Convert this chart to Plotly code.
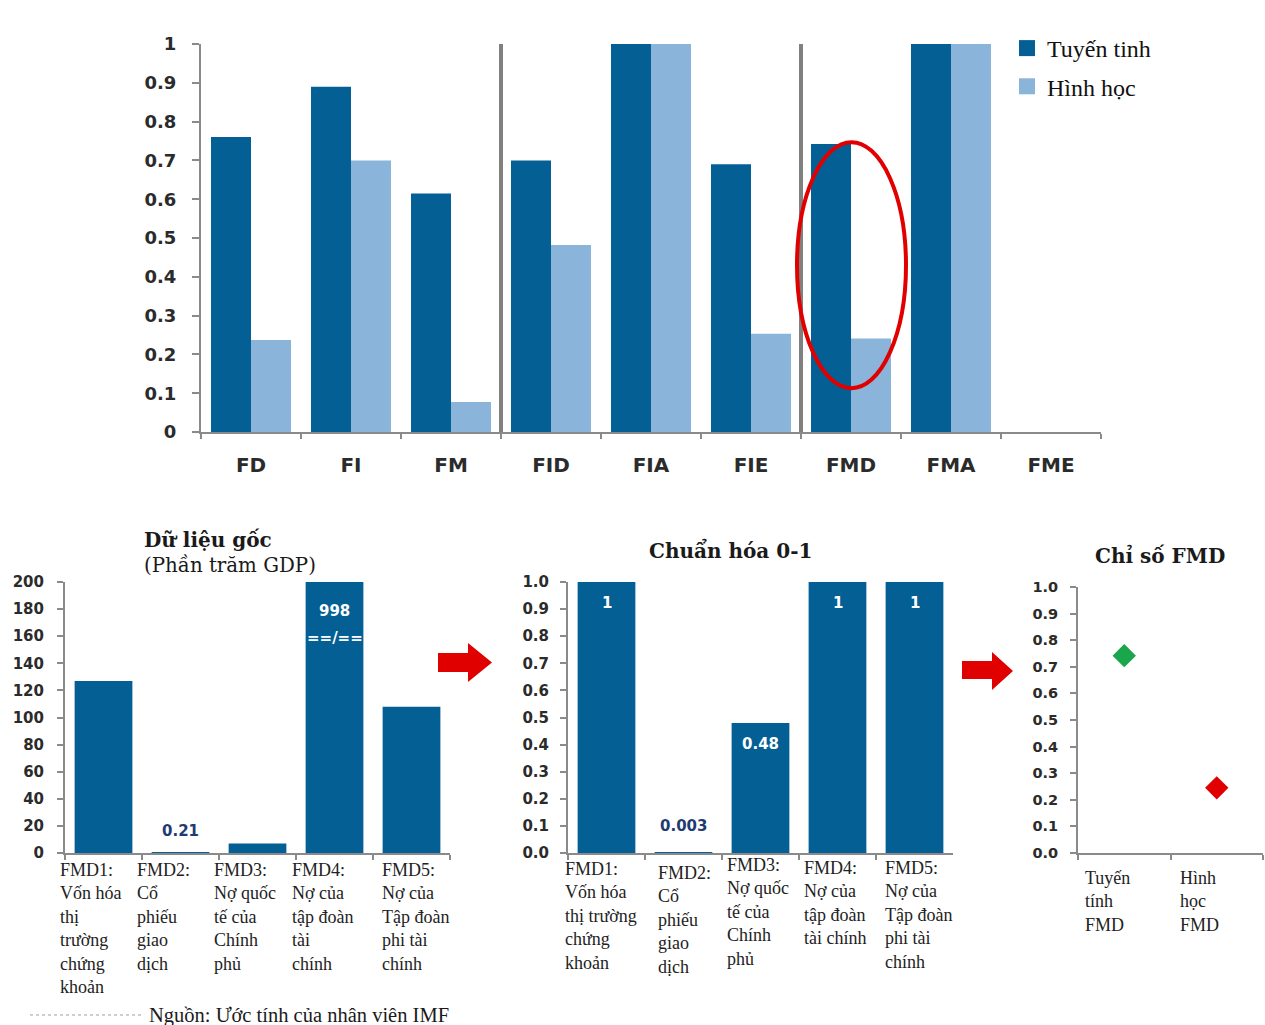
import plotly.graph_objects as go

# ---- data -------------------------------------------------------------
categories = ["FD", "FI", "FM", "FID", "FIA", "FIE", "FMD", "FMA", "FME"]
linear_index = [0.76, 0.89, 0.615, 0.70, 1.0, 0.69, 0.742, 1.0, None]
geometric_index = [0.237, 0.70, 0.077, 0.482, 1.0, 0.253, 0.241, 1.0, None]
series_names = ["Tuyến tinh", "Hình học"]

fmd_codes = ["FMD1", "FMD2", "FMD3", "FMD4", "FMD5"]
raw_values = [127, 0.21, 7, 998, 108]            # percent of GDP
normalized_values = [1, 0.003, 0.48, 1, 1]        # rescaled 0-1

raw_labels = [
    "FMD1:<br>Vốn hóa<br>thị<br>trường<br>chứng<br>khoản",
    "FMD2:<br>Cổ<br>phiếu<br>giao<br>dịch",
    "FMD3:<br>Nợ quốc<br>tế của<br>Chính<br>phủ",
    "FMD4:<br>Nợ của<br>tập đoàn<br>tài<br>chính",
    "FMD5:<br>Nợ của<br>Tập đoàn<br>phi tài<br>chính",
]
norm_labels = [
    "FMD1:<br>Vốn hóa<br>thị trường<br>chứng<br>khoản",
    "FMD2:<br>Cổ<br>phiếu<br>giao<br>dịch",
    "FMD3:<br>Nợ quốc<br>tế của<br>Chính<br>phủ",
    "FMD4:<br>Nợ của<br>tập đoàn<br>tài chính",
    "FMD5:<br>Nợ của<br>Tập đoàn<br>phi tài<br>chính",
]

index_names = ["Tuyến tính FMD", "Hình học FMD"]
index_labels = ["Tuyến<br>tính<br>FMD", "Hình<br>học<br>FMD"]
index_values = [0.742, 0.245]

RAW_AXIS_MAX = 200

# ---- styling ------------------------------------------------------------
W, H = 1265, 1025
DARK = "#035f94"
LIGHT = "#8ab4d9"
AXIS = "#8a8a8a"
TICK_TXT = "#2b2b2b"
RED = "#e00000"
GREEN = "#1aa64b"
SANS = "DejaVu Sans"
SERIF = "Liberation Serif"
WIDE_SERIF = "DejaVu Serif"


def fx(p):
    return p / W


def fy(p):
    return 1 - p / H


fig = go.Figure()

# top: linear vs geometric aggregation
for name, vals, col in zip(series_names, [linear_index, geometric_index], [DARK, LIGHT]):
    fig.add_trace(go.Bar(x=categories, y=vals, name=name,
                         marker=dict(color=col, line_width=0),
                         showlegend=False, xaxis="x", yaxis="y"))
    # legend entry with a larger square swatch
    fig.add_trace(go.Scatter(x=[None], y=[None], mode="markers", name=name,
                             marker=dict(symbol="square", size=16, color=col),
                             legendgroup=name, xaxis="x", yaxis="y"))

# bottom-left: raw data
fig.add_trace(go.Bar(x=fmd_codes, y=raw_values, width=0.75,
                     marker=dict(color=DARK, line_width=0),
                     showlegend=False, xaxis="x2", yaxis="y2"))
# bottom-middle: normalized
fig.add_trace(go.Bar(x=fmd_codes, y=normalized_values, width=0.75,
                     marker=dict(color=DARK, line_width=0),
                     showlegend=False, xaxis="x3", yaxis="y3"))
# bottom-right: resulting FMD index
fig.add_trace(go.Scatter(x=index_names, y=index_values, mode="markers",
                         marker=dict(symbol="diamond", size=18,
                                     color=[GREEN, RED], line_width=0),
                         showlegend=False, xaxis="x4", yaxis="y4"))


def yax(anchor, domain, rng, dtick, fmt, size, standoff, ticklen=7):
    return dict(anchor=anchor, domain=domain, range=rng, dtick=dtick, tickformat=fmt,
                showline=True, linecolor=AXIS, linewidth=2,
                ticks="outside", tickcolor=AXIS, tickwidth=2, ticklen=ticklen,
                showgrid=False, zeroline=False, fixedrange=True, automargin=False,
                tickfont=dict(family=SANS, size=size, color=TICK_TXT, weight="bold"),
                ticklabelstandoff=standoff)


def xax(anchor, domain, n, show_labels=False):
    return dict(anchor=anchor, domain=domain, range=[-0.5, n - 0.5], type="category",
                showline=True, linecolor=AXIS, linewidth=2,
                ticks="outside", tickson="boundaries", tickcolor=AXIS,
                tickwidth=2, ticklen=5, showgrid=False, zeroline=False,
                showticklabels=show_labels, fixedrange=True, automargin=False,
                tickfont=dict(family=SANS, size=20, color=TICK_TXT, weight="bold"),
                ticklabelstandoff=14)


fig.update_layout(
    width=W, height=H,
    margin=dict(l=0, r=0, t=0, b=0, autoexpand=False),
    paper_bgcolor="white", plot_bgcolor="white",
    barmode="group", bargap=0.2, bargroupgap=0,
    showlegend=True,
    legend=dict(x=fx(1007), y=fy(26), xanchor="left", yanchor="top",
                font=dict(family=SERIF, size=24, color="#111"),
                tracegroupgap=4, bgcolor="rgba(0,0,0,0)"),
    xaxis=xax("y", [fx(201), fx(1101)], len(categories), show_labels=True),
    yaxis=yax("x", [fy(432), fy(44)], [0, 1], 0.1, None, 18, 12),
    xaxis2=xax("y2", [fx(65), fx(450)], len(fmd_codes)),
    yaxis2=yax("x2", [fy(853), fy(582)], [0, RAW_AXIS_MAX], 20, None, 15, 10, ticklen=6),
    xaxis3=xax("y3", [fx(568), fx(953)], len(fmd_codes)),
    yaxis3=yax("x3", [fy(853), fy(582)], [0, 1], 0.1, ".1f", 15, 8, ticklen=6),
    xaxis4=xax("y4", [fx(1078), fx(1263)], len(index_names)),
    yaxis4=yax("x4", [fy(853), fy(587)], [0, 1], 0.1, ".1f", 14.5, 9, ticklen=6),
)

shapes = []
# group separators in the top chart
for xb in (2.5, 5.5):
    shapes.append(dict(type="line", xref="x", yref="y", x0=xb, x1=xb, y0=0, y1=1.006,
                       line=dict(color="#808080", width=4)))
# highlight around FMD
fmd_pos = categories.index("FMD")
shapes.append(dict(type="circle", xref="x", yref="y",
                   x0=fmd_pos - 0.54, x1=fmd_pos + 0.55, y0=0.113, y1=0.747,
                   line=dict(color=RED, width=4)))


def arrow(x0, xm, x1, yb0, yb1, yh0, yh1):
    yt = (yh0 + yh1) / 2
    pts = [(x0, yb0), (xm, yb0), (xm, yh0), (x1, yt), (xm, yh1), (xm, yb1), (x0, yb1)]
    path = "M " + " L ".join(f"{fx(a):.5f},{fy(b):.5f}" for a, b in pts) + " Z"
    return dict(type="path", xref="paper", yref="paper", path=path,
                fillcolor=RED, line=dict(color=RED, width=0))


shapes.append(arrow(438, 468, 492, 653, 672, 643, 682))
shapes.append(arrow(962, 992, 1013, 661, 679, 652, 690))
# faint dotted leader before the source note
shapes.append(dict(type="line", xref="paper", yref="paper", x0=fx(30), x1=fx(143),
                   y0=fy(1015), y1=fy(1015), line=dict(color="#cfcfcf", width=2, dash="dot")))
fig.update_layout(shapes=shapes)

ann = []
txt = dict(family=SERIF, size=18, color="#222")

# category captions under the bottom panels
raw_shift = [-7, -7, -7, -6, 7]
for i, lab in enumerate(raw_labels):
    ann.append(dict(xref="x2", yref="y2", x=i - 0.5, y=0, xanchor="left", yanchor="top",
                    xshift=raw_shift[i], yshift=-5, text=lab, align="left",
                    showarrow=False, font=txt))
norm_shift = [-5, 11, 3, 3, 7]
norm_vshift = [-4, -8, 0, -3, -3]
for i, lab in enumerate(norm_labels):
    ann.append(dict(xref="x3", yref="y3", x=i - 0.5, y=0, xanchor="left", yanchor="top",
                    xshift=norm_shift[i], yshift=norm_vshift[i], text=lab, align="left",
                    showarrow=False, font=txt))
idx_shift = [5, 7]
for i, lab in enumerate(index_labels):
    ann.append(dict(xref="x4", yref="y4", x=i - 0.5, y=0, xanchor="left", yanchor="top",
                    xshift=idx_shift[i], yshift=-13, text=lab, align="left",
                    showarrow=False, font=txt))

# value labels
val_in = dict(family=SANS, size=15, color="white", weight="bold")
val_out = dict(family=SANS, size=15, color="#1f3b73", weight="bold")
big = fmd_codes[raw_values.index(max(raw_values))]
ann.append(dict(xref="x2", yref="y2", x=big, y=RAW_AXIS_MAX, yanchor="top", yshift=-18,
                text=f"{max(raw_values):g}", showarrow=False, font=val_in))
ann.append(dict(xref="x2", yref="y2", x=big, y=RAW_AXIS_MAX, yanchor="top", yshift=-45,
                text="==/==", showarrow=False, font=val_in))
ann.append(dict(xref="x2", yref="y2", x="FMD2", y=raw_values[1], yanchor="bottom", yshift=11,
                text=f"{raw_values[1]:g}", showarrow=False, font=val_out))
for code, v in zip(fmd_codes, normalized_values):
    if v < 0.1:
        ann.append(dict(xref="x3", yref="y3", x=code, y=v, yanchor="bottom", yshift=15,
                        text=f"{v:g}", showarrow=False, font=val_out))
    else:
        ann.append(dict(xref="x3", yref="y3", x=code, y=v, yanchor="top", yshift=-10,
                        text=f"{v:g}", showarrow=False, font=val_in))

# panel titles and source
ttl = dict(family=WIDE_SERIF, size=20, color="#1a1a1a", weight="bold")
ann.append(dict(xref="paper", yref="paper", x=fx(142), y=fy(540), xanchor="left",
                yanchor="middle", text="Dữ liệu gốc", showarrow=False, font=ttl))
ann.append(dict(xref="paper", yref="paper", x=fx(142), y=fy(565), xanchor="left",
                yanchor="middle", text="(Phần trăm GDP)", showarrow=False,
                font=dict(family=WIDE_SERIF, size=19.8, color="#1a1a1a")))
ann.append(dict(xref="paper", yref="paper", x=fx(730), y=fy(550), xanchor="center",
                yanchor="middle", text="Chuẩn hóa 0-1", showarrow=False, font=ttl))
ann.append(dict(xref="paper", yref="paper", x=fx(1160), y=fy(556), xanchor="center",
                yanchor="middle", text="Chỉ số FMD", showarrow=False, font=ttl))
ann.append(dict(xref="paper", yref="paper", x=fx(147), y=fy(1015), xanchor="left",
                yanchor="middle", text="Nguồn: Ước tính của nhân viên IMF", showarrow=False,
                font=dict(family=SERIF, size=20.5, color="#1a1a1a")))

fig.update_layout(annotations=ann)

fig.write_html("out.html")
